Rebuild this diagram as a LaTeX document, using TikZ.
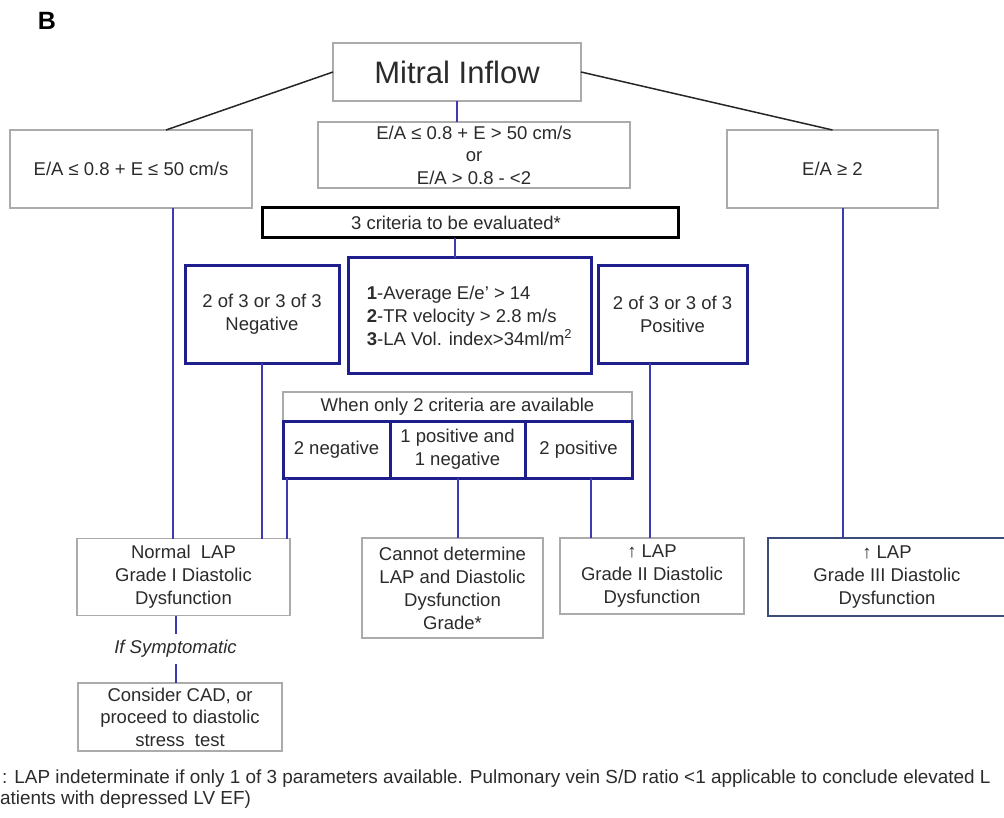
\documentclass[tikz,border=0pt]{standalone}
\usepackage{fontspec}
\setmainfont{Liberation Sans}
\usetikzlibrary{positioning}
\definecolor{navyline}{HTML}{1E1E8C}
\definecolor{linkblue}{HTML}{3C3CB0}
\definecolor{boxgray}{HTML}{ABABAB}
\definecolor{slate}{HTML}{3C4E78}
\definecolor{txt}{HTML}{2B2B2B}

\begin{document}
\begin{tikzpicture}[x=1pt, y=-1pt,
  gbox/.style={draw=boxgray, line width=1.3pt, fill=white, align=center,
    inner sep=0pt, outer sep=0pt, text=txt, font=\fontsize{18.5}{23}\selectfont},
  nbox/.style={gbox, draw=navyline, line width=3pt},
  link/.style={draw=linkblue, line width=2pt},
  tie/.style={draw=black!85, line width=1.5pt},
  note/.style={inner sep=0pt, anchor=west, text=txt, font=\fontsize{18.9}{21}\selectfont}]
  \useasboundingbox (0,0) rectangle (1004,818);

  \node[font=\fontsize{25}{25}\selectfont\bfseries] (lbl) at (47,21) {B};

  % top row
  \node[gbox, minimum width=248pt, minimum height=58pt, font=\fontsize{31}{32}\selectfont] (mitral) at (457,72) {Mitral Inflow};
  \node[gbox, minimum width=242pt, minimum height=78pt] (ea1) at (131,169) {E/A ≤ 0.8 + E ≤ 50 cm/s};
  \node[gbox, minimum width=312pt, minimum height=66pt, font=\fontsize{18.5}{22.5}\selectfont] (mid) at (474,155) {E/A ≤ 0.8 + E > 50 cm/s\\or\\E/A > 0.8 - <2};
  \node[gbox, minimum width=211pt, minimum height=78pt] (ea2) at (832.5,169) {E/A ≥ 2};
  \node[gbox, draw=black, line width=3pt, minimum width=416pt, minimum height=30pt] (crit3) at (470,223) {3 criteria to be evaluated*\hspace*{28pt}};

  % three criteria
  \node[nbox, minimum width=154pt, minimum height=97pt] (neg) at (262,314.5) {2 of 3 or 3 of 3\\Negative};
  \node[nbox, minimum width=243pt, minimum height=115pt, align=left] (criteria) at (469.5,315.5) {\textbf{1}-Average E/e’ > 14\\\textbf{2}-TR velocity > 2.8 m/s\\\textbf{3}-LA Vol. index>34ml/m\textsuperscript{2}};
  \node[nbox, minimum width=149pt, minimum height=97pt] (pos) at (672.5,314.5) {2 of 3 or 3 of 3\\Positive};

  % only two criteria
  \node[gbox, minimum width=349pt, minimum height=29pt] (when) at (457.5,406.5) {When only 2 criteria are available};
  \node[nbox, minimum width=107pt, minimum height=57pt] (twoneg) at (336.5,449.5) {2 negative};
  \node[nbox, minimum width=135pt, minimum height=57pt, right=0pt of twoneg] (onepos) {1 positive and\\1 negative};
  \node[nbox, minimum width=107pt, minimum height=57pt, right=0pt of onepos] (twopos) {2 positive};

  % outcomes
  \node[gbox, minimum width=213pt, minimum height=77pt] (normal) at (183.5,577) {Normal\ \ LAP\\Grade I Diastolic\\Dysfunction};
  \node[gbox, minimum width=181pt, minimum height=100pt] (cannot) at (452.5,588) {Cannot determine\\LAP and Diastolic\\Dysfunction\\Grade*};
  \node[gbox, minimum width=184pt, minimum height=76pt] (grade2) at (652,576) {↑ LAP\\Grade II Diastolic\\Dysfunction};
  \node[gbox, draw=slate, line width=2.5pt, minimum width=238pt, minimum height=78pt] (grade3) at (887,577) {↑ LAP\\Grade III Diastolic\\Dysfunction};
  \node[inner sep=0pt, minimum height=30pt, text=txt, font=\fontsize{18.5}{23}\selectfont\itshape] (symp) at (175.5,649) {If Symptomatic};
  \node[gbox, minimum width=204pt, minimum height=68pt, font=\fontsize{18.5}{22.5}\selectfont] (cad) at (180,717) {Consider CAD, or\\proceed to diastolic\\stress\ \ test};

  % footnote
  \node[note] (note1) at (2,779) {: LAP indeterminate if only 1 of 3 parameters available. Pulmonary vein S/D ratio <1 applicable to conclude elevated L};
  \node[note] (note2) at (0,800) {atients with depressed LV EF)};

  % connectors
  \draw[tie] (mitral.west) -- ([xshift=35pt]ea1.north);
  \draw[tie] (mitral.east) -- (ea2.north);
  \draw[link] (mitral.south) -- (mitral.south |- mid.north);
  \draw[link] ([xshift=-15pt]crit3.south) -- ([xshift=-15pt]crit3.south |- criteria.north);
  \draw[link] ([xshift=42pt]ea1.south) -- ([xshift=42pt]ea1.south |- normal.north);
  \draw[link] (neg.south) -- (neg.south |- normal.north);
  \draw[link] ([xshift=4pt]twoneg.south west) -- ([xshift=4pt]twoneg.south west |- normal.north);
  \draw[link] (onepos.south) -- (onepos.south |- cannot.north);
  \draw[link] ([xshift=12pt]twopos.south) -- ([xshift=12pt]twopos.south |- grade2.north);
  \draw[link] ([xshift=-23pt]pos.south) -- ([xshift=-23pt]pos.south |- grade2.north);
  \draw[link] ([xshift=10pt]ea2.south) -- ([xshift=10pt]ea2.south |- grade3.north);
  \draw[link] (symp.north |- normal.south) -- (symp.north);
  \draw[link] (symp.south) -- (symp.south |- cad.north);
\end{tikzpicture}
\end{document}
